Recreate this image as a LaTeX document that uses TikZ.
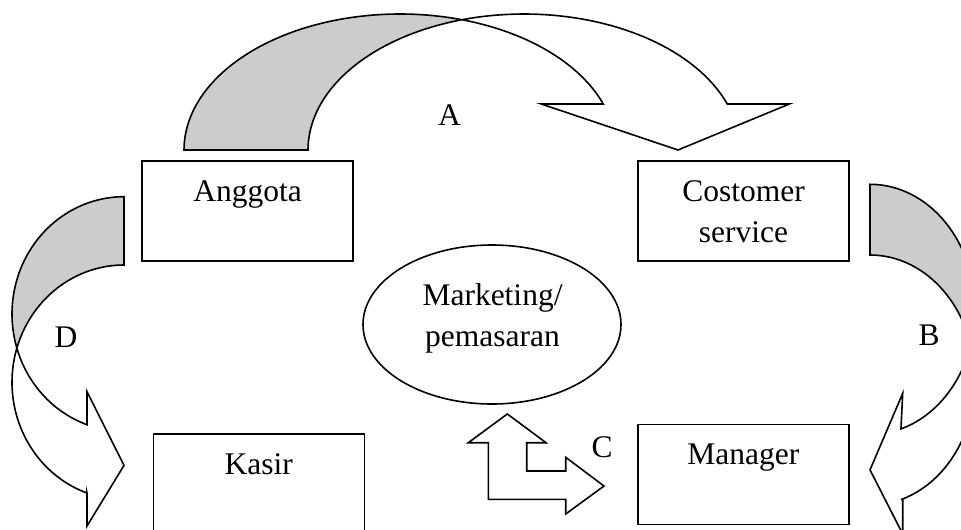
\documentclass[tikz,border=0pt]{standalone}
\usepackage{fontspec}
\setmainfont{Liberation Serif}
\usetikzlibrary{shapes.geometric}

\tikzset{
  kotak/.style={draw, line width=1.6pt, rectangle, minimum width=211pt, minimum height=100pt, inner sep=0pt},
  teks/.style={font=\fontsize{31.5}{41.5}\selectfont, inner sep=0pt, align=center, anchor=base},
  panah/.style={draw, line width=1.6pt, line join=miter},
  bayang/.style={fill=gray!40}
}

\begin{document}
\begin{tikzpicture}[x=1pt, y=-1pt]
\useasboundingbox (0,0) rectangle (961,530);

% Boxes
\node[kotak] (anggota) at (247.5,211) {};
\node[kotak] (costomer) at (743.5,211) {};
\node[kotak] (kasir) at (258.8,484) {};
\node[kotak] (manager) at (743.3,474.5) {};
\node[draw, line width=1.6pt, ellipse, minimum width=258pt, minimum height=159pt, inner sep=0pt] (marketing) at (492,324.5) {};

% Texts (base = last line)
\node[teks] (tAnggota) at ([yshift=-41pt]anggota.north) {Anggota};
\node[teks] (tCostomer) at ([yshift=-82.5pt]costomer.north) {Costomer\\service};
\node[teks] (tKasir) at ([yshift=-41pt]kasir.north) {Kasir};
\node[teks] (tManager) at ([yshift=-41pt]manager.north) {Manager};
\node[teks] (tMarketing) at (492.5,346.5) {Marketing/\\pemasaran};

% Letters
\node[teks] (lblA) at (449.5,125) {A};
\node[teks] (lblB) at (929,345) {B};
\node[teks] (lblC) at (602,457) {C};
\node[teks] (lblD) at (66,347) {D};

% Arrow A (top)
\fill[bayang] plot[domain=180:286.7, samples=50, variable=\t] ({400+216*cos(\t)},{150+136*sin(\t)})
  -- plot[domain=253.3:180, samples=50, variable=\t] ({524+216*cos(\t)},{150+136*sin(\t)}) -- cycle;
\draw[panah] plot[domain=180:340.23, samples=80, variable=\t] ({400+216*cos(\t)},{150+136*sin(\t)})
  -- (541.3,104) -- (678,150) -- (789.3,104) -- (727.3,104)
  -- plot[domain=340.23:180, samples=80, variable=\t] ({524+216*cos(\t)},{150+136*sin(\t)}) -- cycle;

% Arrow B (right)
\fill[bayang] plot[domain=270:376.42, samples=50, variable=\t] ({870+105*cos(\t)},{309.4+125.1*sin(\t)})
  -- plot[domain=343.58:270, samples=50, variable=\t] ({870+105*cos(\t)},{380.1+125.1*sin(\t)}) -- cycle;
\draw[panah] plot[domain=270:432.86, samples=80, variable=\t] ({870+105*cos(\t)},{309.4+125.1*sin(\t)})
  -- (902.7,393.3) -- (870,469.9) -- (902.7,534) -- (902.7,499)
  -- plot[domain=432.86:270, samples=80, variable=\t] ({870+105*cos(\t)},{380.1+125.1*sin(\t)}) -- cycle;

% Arrow C (up and right)
\draw[panah] (507.3,414) -- (546,442.7) -- (526.7,442.7) -- (526.7,471) -- (565.7,471)
  -- (565.7,457.3) -- (604,486) -- (565.7,514) -- (565.7,499.3) -- (488.3,499.3)
  -- (488.3,442.7) -- (468.3,442.7) -- cycle;

% Arrow D (left)
\fill[bayang] plot[domain=270:163.07, samples=50, variable=\t] ({124+112*cos(\t)},{314+117.3*sin(\t)})
  -- plot[domain=196.93:270, samples=50, variable=\t] ({124+112*cos(\t)},{382.3+117.3*sin(\t)}) -- cycle;
\draw[panah] plot[domain=270:109.29, samples=80, variable=\t] ({124+112*cos(\t)},{314+117.3*sin(\t)})
  -- (87,391.7) -- (124,465.4) -- (87,526) -- (87,493)
  -- plot[domain=109.29:270, samples=80, variable=\t] ({124+112*cos(\t)},{382.3+117.3*sin(\t)}) -- cycle;
\end{tikzpicture}
\end{document}
